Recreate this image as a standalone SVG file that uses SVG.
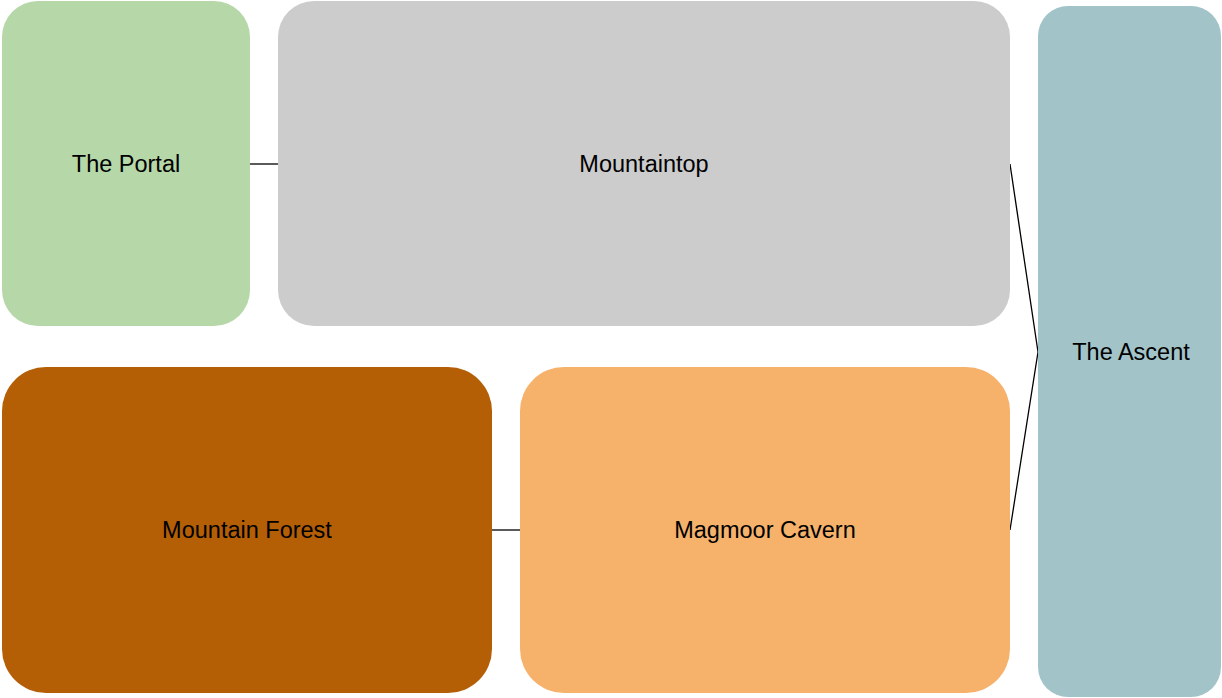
<svg xmlns="http://www.w3.org/2000/svg" width="1222" height="698" viewBox="0 0 1222 698">
<style>
text{font-family:"Liberation Sans",Arial,sans-serif;font-size:23.5px;fill:#000;text-anchor:middle}
.c{stroke:#000;stroke-width:1.3;fill:none}
</style>
<rect width="1222" height="698" fill="#fff"/>
<g id="connectors">
<line class="c" x1="250" y1="164" x2="278" y2="164"/>
<line class="c" x1="492" y1="530" x2="520" y2="530"/>
<polyline class="c" points="1010,164 1038,352 1010,530"/>
</g>
<g id="portal"><rect x="2" y="1" width="248" height="325" rx="36" fill="#b6d7a8"/><text x="126" y="172">The Portal</text></g>
<g id="mountaintop"><rect x="278" y="1" width="732" height="325" rx="36" fill="#cccccc"/><text x="644" y="172">Mountaintop</text></g>
<g id="forest"><rect x="2" y="367" width="490" height="326" rx="44" fill="#b45f06"/><text x="247" y="538">Mountain Forest</text></g>
<g id="magmoor"><rect x="520" y="367" width="490" height="326" rx="44" fill="#f6b26b"/><text x="765" y="538">Magmoor Cavern</text></g>
<g id="ascent"><rect x="1038" y="6" width="183" height="691" rx="30" fill="#a2c4c9"/><text x="1131" y="360">The Ascent</text></g>
</svg>
